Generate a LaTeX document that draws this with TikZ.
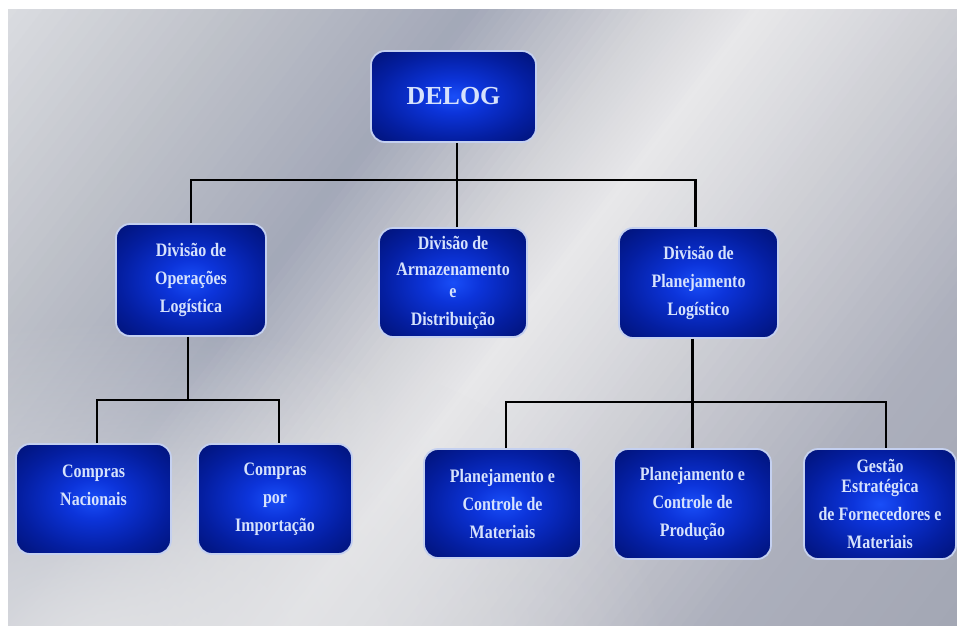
\documentclass[tikz,border=0pt]{standalone}
\usepackage{fontspec}
\setmainfont{Liberation Serif}
\newfontfamily\condfont{Liberation Serif}[FakeStretch=0.84]
\usetikzlibrary{fadings}
\definecolor{mA}{RGB}{220,222,226}
\definecolor{mB}{RGB}{190,193,201}
\definecolor{mC}{RGB}{163,168,184}
\definecolor{mD}{RGB}{210,211,216}
\definecolor{mE}{RGB}{232,232,234}
\definecolor{mF}{RGB}{206,207,213}
\definecolor{mG}{RGB}{172,175,188}
\definecolor{mH}{RGB}{160,164,177}
\definecolor{mL}{RGB}{224,225,228}
\definecolor{bxA}{RGB}{25,78,248}
\definecolor{bxB}{RGB}{12,52,218}
\definecolor{bxC}{RGB}{4,30,160}
\definecolor{bxD}{RGB}{0,16,110}
\definecolor{bxE}{RGB}{0,10,86}
\definecolor{boxedge}{RGB}{196,208,240}
\definecolor{boxtext}{RGB}{214,226,252}
\pgfdeclareradialshading{boxshade}{\pgfpoint{0bp}{0bp}}{color(0bp)=(bxA); color(9bp)=(bxB); color(24bp)=(bxC); color(38bp)=(bxD); color(50bp)=(bxE)}
\tikzfading[name=softblob, inner color=transparent!0, outer color=transparent!100]
\newcommand\metalseg[4]{%
  \foreach \mi in {0,...,19}{%
    \pgfmathsetmacro\mpa{#1+(#2-#1)*\mi/20}%
    \pgfmathsetmacro\mpb{#1+(#2-#1)*(\mi+1.4)/20}%
    \pgfmathtruncatemacro\mpc{100-100*(\mi+0.5)/20}%
    \fill[#3!\mpc!#4] ({\mpa*0.794+912},{\mpa*0.608-1191}) -- ({\mpb*0.794+912},{\mpb*0.608-1191}) -- ({\mpb*0.794-912},{\mpb*0.608+1191}) -- ({\mpa*0.794-912},{\mpa*0.608+1191}) -- cycle;
  }}
\tikzset{
  orgbox/.style={shade, shading=boxshade, draw=boxedge, line width=1.8pt, rounded corners=14pt,
    text=boxtext, font=\condfont\bfseries\fontsize{19}{28}\selectfont, align=center, inner sep=0pt},
  conn/.style={draw=black, line width=2.6pt}
}
\begin{document}
\begin{tikzpicture}[x=1pt,y=-1pt]
\useasboundingbox (0,0) rectangle (957,625);
\fill[white] (0,0) rectangle (990,660);
\begin{scope}
  \clip (8,9) rectangle (990,660);
  \fill[mA] (0,0) rectangle (990,660);
  \metalseg{0}{200}{mA}{mB}
  \metalseg{200}{380}{mB}{mC}
  \metalseg{380}{520}{mC}{mD}
  \metalseg{520}{610}{mD}{mE}
  \metalseg{610}{760}{mE}{mF}
  \metalseg{760}{950}{mF}{mG}
  \metalseg{950}{1200}{mG}{mH}
  \fill[mL, path fading=softblob, fit fading=true] (110,650) ellipse [x radius=560, y radius=330];
\end{scope}

\node[orgbox, minimum width=165pt, minimum height=91pt, font=\bfseries\fontsize{26}{30}\selectfont] (delog) at (453.5,96.5) {DELOG};
\node[orgbox, minimum width=150pt, minimum height=112pt] (oper) at (191,280) {Divisão de\\Operações\\Logística};
\node[orgbox, minimum width=148pt, minimum height=109pt] (armaz) at (453,282.5) {Divisão de\\[-2pt]Armazenamento\\[-6pt]e\\Distribuição};
\node[orgbox, minimum width=159pt, minimum height=110pt] (plan) at (698.5,283) {Divisão de\\Planejamento\\Logístico};
\node[orgbox, minimum width=155pt, minimum height=110pt] (cnac) at (93.5,499) {Compras\\Nacionais\\\phantom{Nacionais}};
\node[orgbox, minimum width=154pt, minimum height=110pt] (cimp) at (275,499) {Compras\\por\\Importação};
\node[orgbox, minimum width=157pt, minimum height=109pt] (pcm) at (502.5,503.5) {Planejamento e\\Controle de\\Materiais};
\node[orgbox, minimum width=157pt, minimum height=110pt] (pcp) at (692.5,504) {Planejamento e\\Controle de\\Produção};
\node[orgbox, minimum width=152pt, minimum height=110pt] (gef) at (880,504) {Gestão\\[-8pt]Estratégica\\de Fornecedores e\\Materiais};

\coordinate (busA) at (0,180);
\coordinate (busB) at (0,400);
\coordinate (busC) at (0,402);

\draw[conn] ([xshift=3.5pt]delog.south) -- ([xshift=3.5pt]delog.south |- busA);
\draw[conn] (oper.north) |- ([xshift=-3pt]plan.north |- busA) -- ([xshift=-3pt]plan.north);
\draw[conn] ([xshift=4pt]armaz.north) -- ([xshift=4pt]armaz.north |- busA);
\draw[conn] ([xshift=-3pt]oper.south) -- ([xshift=-3pt]oper.south |- busB);
\draw[conn] ([xshift=3.5pt]cnac.north) |- ([xshift=4pt]cimp.north |- busB) -- ([xshift=4pt]cimp.north);
\draw[conn] ([xshift=-6pt]plan.south) -- ([xshift=-6pt]plan.south |- busC);
\draw[conn] ([xshift=3.5pt]pcm.north) |- ([xshift=6pt]gef.north |- busC) -- ([xshift=6pt]gef.north);
\draw[conn] (pcp.north) -- (pcp.north |- busC);
\end{tikzpicture}
\end{document}
